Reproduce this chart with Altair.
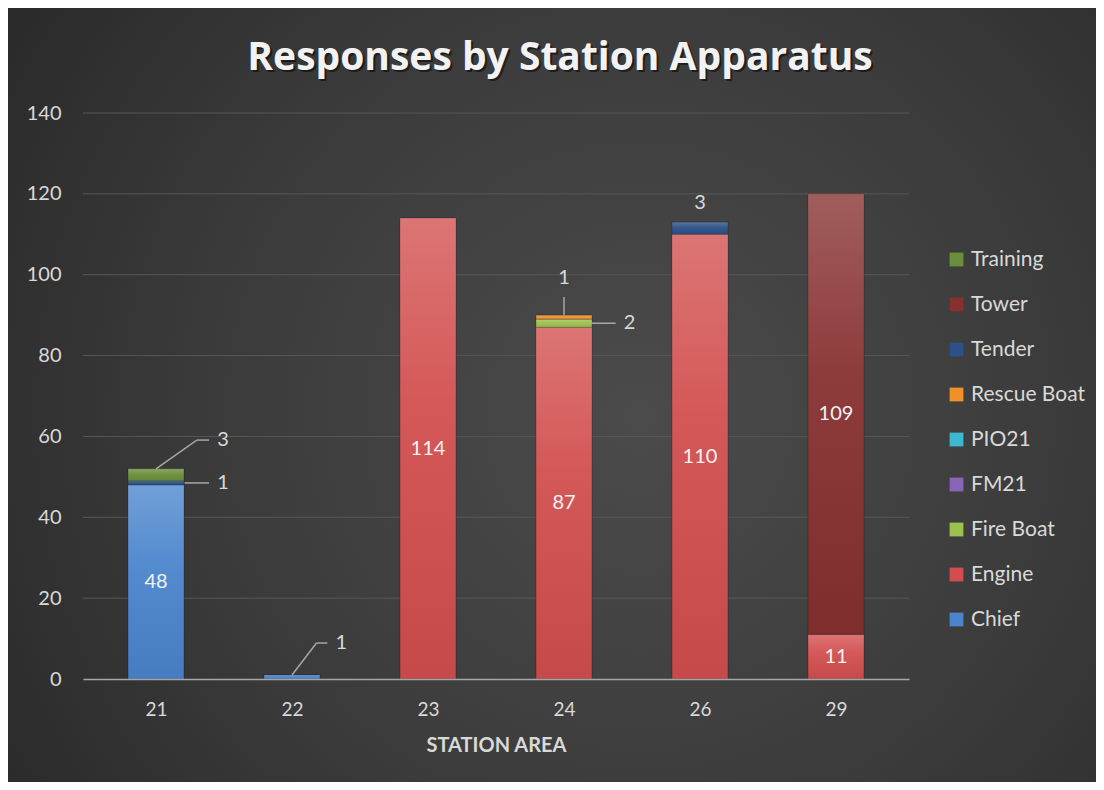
import json
import altair as alt
import pandas as pd

# ---------------- data ----------------
stations = ["21", "22", "23", "24", "26", "29"]
series = ["Chief", "Engine", "Fire Boat", "FM21", "PIO21", "Rescue Boat", "Tender", "Tower", "Training"]
chief = [48, 1, 0, 0, 0, 0]
engine = [0, 0, 114, 87, 110, 11]
fire_boat = [0, 0, 0, 2, 0, 0]
fm21 = [0, 0, 0, 0, 0, 0]
pio21 = [0, 0, 0, 0, 0, 0]
rescue_boat = [0, 0, 0, 1, 0, 0]
tender = [1, 0, 0, 0, 3, 0]
tower = [0, 0, 0, 0, 0, 109]
training = [3, 0, 0, 0, 0, 0]
colors = ["#4a84cc", "#d24e4e", "#9cc24e", "#8a64b8", "#3cb8d0", "#f0902a", "#2c5088", "#86302f", "#6a8f3a"]
y_ticks = [0, 20, 40, 60, 80, 100, 120, 140]
title_text = ["Responses by Station Apparatus"]

# small-value callouts (label anchor in data units) and their leader lines
note_text = ["3", "1", "1", "1", "2", "3"]
note_x = [0.45, 0.45, 1.32, 3.0, 3.44, 4.0]
note_y = [59.1, 48.5, 8.9, 99.2, 88.0, 117.7]
note_align = ["left", "left", "left", "center", "left", "center"]
lead_x = [0.0, 0.30, 0.21, 1.0, 1.18, 3.0, 3.20]
lead_x2 = [0.30, 0.39, 0.39, 1.18, 1.26, 3.0, 3.38]
lead_y = [52.0, 59.1, 48.5, 1.0, 8.9, 90.0, 88.0]
lead_y2 = [59.1, 59.1, 48.5, 8.9, 8.9, 94.5, 88.0]

# ---------------- tables ----------------
vals = [chief, engine, fire_boat, fm21, pio21, rescue_boat, tender, tower, training]
rows = []
for si, (s, v) in enumerate(zip(series, vals)):
    for pi, val in enumerate(v):
        if val > 0:
            rows.append({"pos": pi, "station": stations[pi], "series": s, "value": val, "ord": si})
bars = pd.DataFrame(rows)

inside = []
for pi in range(len(stations)):
    base = 0
    for si, v in enumerate(vals):
        if v[pi] > 0:
            if v[pi] >= 10:
                inside.append({"pos": pi, "mid": base + v[pi] / 2, "label": str(v[pi])})
            base += v[pi]
inside = pd.DataFrame(inside)

notes = pd.DataFrame({"x": note_x, "y": note_y, "t": note_text, "a": note_align})
leads = pd.DataFrame({"x": lead_x, "x2": lead_x2, "y": lead_y, "y2": lead_y2})
grid = pd.DataFrame({"v": y_ticks})
titles = pd.DataFrame({"t": title_text})

W, H = 826, 566
PL, PT, PR, PB = 75, 105, 187, 103
FONT = "Lato"
TXT = "#d9d9d9"

label_expr = "%s[datum.value]" % json.dumps(stations)
xscale = alt.Scale(domain=[-0.5, len(stations) - 0.5], nice=False, zero=False)
yscale = alt.Scale(domain=[0, 140], nice=False)

x_axis = alt.Axis(values=list(range(len(stations))), labelExpr=label_expr, title="STATION AREA",
                  grid=False, ticks=False, domainColor="#a6a6a6", domainWidth=1.5,
                  labelFontSize=19, labelColor=TXT, labelPadding=21, labelFont=FONT,
                  titleFontSize=20, titleFontWeight="bold", titleColor=TXT, titleFont=FONT,
                  titlePadding=16, zindex=1)
y_axis = alt.Axis(values=y_ticks, title=None, domain=False, ticks=False, grid=False,
                  labelFontSize=20, labelColor=TXT, labelPadding=22, labelFont=FONT, zindex=1)

background = alt.Chart(pd.DataFrame({"a": [0]})).mark_rect(
    color=alt.Gradient(
        gradient="radial",
        stops=[alt.GradientStop(color="#4b4b4b", offset=0),
               alt.GradientStop(color="#3b3b3b", offset=0.5),
               alt.GradientStop(color="#252525", offset=1)],
        x1=0.58, y1=0.52, x2=0.58, y2=0.52, r1=0, r2=0.78),
).encode(x=alt.value(-PL), x2=alt.value(W + PR), y=alt.value(-PT), y2=alt.value(H + PB))

gridlines = alt.Chart(grid).transform_filter("datum.v > 0").mark_rule(
    color="#575757", strokeWidth=1
).encode(y=alt.Y("v:Q", scale=yscale, axis=y_axis), x=alt.value(0), x2=alt.value(W))

bar_layer = alt.Chart(bars).mark_bar(size=56, stroke="#000000", strokeOpacity=0.25, strokeWidth=1).encode(
    x=alt.X("pos:Q", scale=xscale, axis=x_axis),
    y=alt.Y("value:Q", stack="zero", scale=yscale, axis=y_axis),
    color=alt.Color("series:N",
                    scale=alt.Scale(domain=series[::-1], range=colors[::-1]),
                    legend=alt.Legend(title=None, orient="none", legendX=863, legendY=136,
                                      symbolType="square", symbolSize=190, symbolStrokeWidth=0,
                                      symbolOpacity=1, labelFontSize=21, labelColor=TXT,
                                      labelFont=FONT, rowPadding=23, labelOffset=4)),
    order=alt.Order("ord:Q", sort="ascending"),
)

shine = alt.Chart(bars).mark_bar(
    size=56,
    color=alt.Gradient(
        gradient="linear", x1=0, y1=0, x2=0, y2=1,
        stops=[alt.GradientStop(color="rgba(255,255,255,0.22)", offset=0),
               alt.GradientStop(color="rgba(255,255,255,0.06)", offset=0.4),
               alt.GradientStop(color="rgba(0,0,0,0.06)", offset=1)]),
).encode(
    x=alt.X("pos:Q", scale=xscale),
    y=alt.Y("value:Q", stack="zero", scale=yscale),
    detail="series:N",
    order=alt.Order("ord:Q", sort="ascending"),
)

inside_text = alt.Chart(inside).mark_text(fontSize=20, color="#f2f2f2", font=FONT, baseline="middle").encode(
    x=alt.X("pos:Q", scale=xscale), y=alt.Y("mid:Q", scale=yscale), text="label:N")

lead_layer = alt.Chart(leads).mark_rule(color="#a6a6a6", strokeWidth=1.5).encode(
    x=alt.X("x:Q", scale=xscale), x2="x2:Q", y=alt.Y("y:Q", scale=yscale), y2="y2:Q")

note_left = alt.Chart(notes).transform_filter("datum.a == 'left'").mark_text(
    fontSize=20, color=TXT, font=FONT, align="left", baseline="middle").encode(
    x=alt.X("x:Q", scale=xscale), y=alt.Y("y:Q", scale=yscale), text="t:N")
note_center = alt.Chart(notes).transform_filter("datum.a == 'center'").mark_text(
    fontSize=20, color=TXT, font=FONT, align="center", baseline="middle").encode(
    x=alt.X("x:Q", scale=xscale), y=alt.Y("y:Q", scale=yscale), text="t:N")

# chart title drawn as text with a soft drop shadow
TFONT = "Open Sans"
title_shadow = alt.Chart(titles).mark_text(
    fontSize=39, font=TFONT, fontWeight="bold", color="#000000", opacity=0.5,
    align="center", baseline="middle", dx=2, dy=2).encode(
    x=alt.value(W / 2 + 64), y=alt.value(-55), text="t:N")
title_main = alt.Chart(titles).mark_text(
    fontSize=39, font=TFONT, fontWeight="bold", color="#f2f2f2",
    align="center", baseline="middle").encode(
    x=alt.value(W / 2 + 64), y=alt.value(-55), text="t:N")

chart = alt.layer(
    background, gridlines, bar_layer, shine, inside_text, lead_layer, note_left, note_center,
    title_shadow, title_main
).properties(
    width=W, height=H,
    autosize=alt.AutoSizeParams(type="none"),
    padding={"left": PL, "top": PT, "right": PR, "bottom": PB},
).configure(background="#2e2e2e").configure_view(stroke=None)

chart.save("out.html", embed_options={"renderer": "svg", "actions": False})
